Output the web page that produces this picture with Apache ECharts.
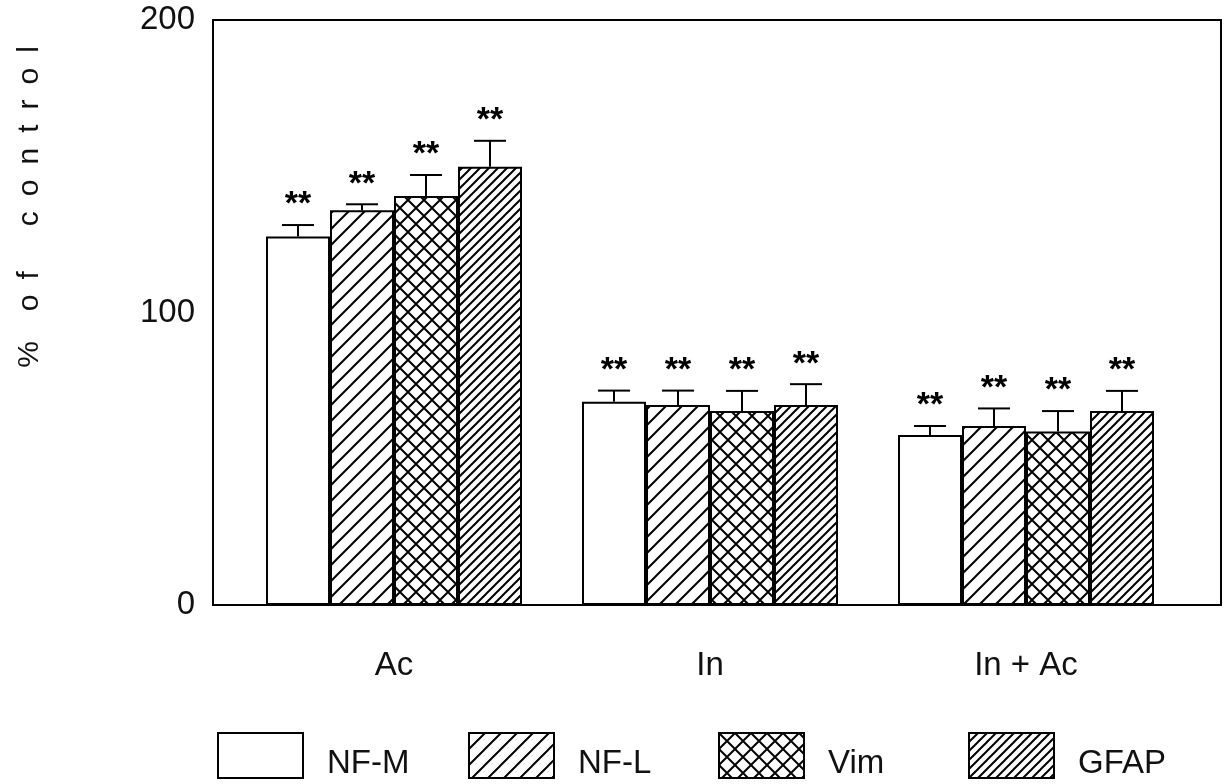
<!DOCTYPE html>
<html>
<head>
<meta charset="utf-8">
<script src="https://cdn.jsdelivr.net/npm/echarts@6/dist/echarts.min.js"></script>
<style>
  html, body { margin: 0; background: #fff; }
  #chart { width: 1232px; height: 784px; }
</style>
</head>
<body>
<div id="chart"></div>
<script>
// data (% of control, mean and SE)
var categories = ['Ac', 'In', 'In + Ac'];
var seriesNames = ['NF-M', 'NF-L', 'Vim', 'GFAP'];
var nfM = [126, 69.5, 58.1];
var nfL = [135, 68.4, 61.2];
var vim = [139.8, 66.3, 59.3];
var gfap = [149.8, 68.4, 66.3];
var nfMErr = [3.9, 3.8, 3.1];
var nfLErr = [2.0, 4.9, 6.0];
var vimErr = [7.2, 6.9, 7.0];
var gfapErr = [8.9, 7.1, 6.9];
var sigMarks = ['**', '**', '**'];
var yTicks = [0, 100, 200];

var BAR_W = 64;
var FONT = 'Liberation Sans, Arial, sans-serif';

// hatch fills
function makePattern(size, kind) {
  var c = document.createElement('canvas');
  c.width = c.height = size;
  var g = c.getContext('2d');
  g.fillStyle = '#fff';
  g.fillRect(0, 0, size, size);
  g.strokeStyle = '#000';
  g.lineWidth = 2;
  g.beginPath();
  if (kind !== 'none') {
    g.moveTo(-2, size + 2); g.lineTo(size + 2, -2);
    g.moveTo(-2, 2); g.lineTo(2, -2);
    g.moveTo(size - 2, size + 2); g.lineTo(size + 2, size - 2);
  }
  if (kind === 'cross') {
    g.moveTo(-2, -2); g.lineTo(size + 2, size + 2);
    g.moveTo(size - 2, -2); g.lineTo(size + 2, 2);
    g.moveTo(-2, size - 2); g.lineTo(2, size + 2);
  }
  g.stroke();
  return { image: c, repeat: 'repeat' };
}

var fills = [
  '#fff',
  makePattern(16, 'slash'),
  makePattern(16, 'cross'),
  makePattern(9, 'slash')
];
var values = [nfM, nfL, vim, gfap];
var errs = [nfMErr, nfLErr, vimErr, gfapErr];

function errRender(k) {
  return function (params, api) {
    var i = api.value(0);
    var base = api.coord([i, api.value(1)]);
    var top = api.coord([i, api.value(1) + api.value(2)]);
    var x = base[0] + (k - 1.5) * BAR_W;
    return {
      type: 'group',
      children: [
        { type: 'line', shape: { x1: x, y1: base[1], x2: x, y2: top[1] }, style: { stroke: '#000', lineWidth: 2 } },
        { type: 'line', shape: { x1: x - 16, y1: top[1], x2: x + 16, y2: top[1] }, style: { stroke: '#000', lineWidth: 2 } },
        {
          type: 'text', x: x, y: top[1] - 20,
          style: { text: sigMarks[i], font: 'bold 34px ' + FONT, fill: '#000', align: 'center', verticalAlign: 'middle' }
        }
      ]
    };
  };
}

var series = [];
seriesNames.forEach(function (name, k) {
  series.push({
    name: name,
    type: 'bar',
    data: values[k],
    barWidth: BAR_W,
    barGap: '0%',
    itemStyle: { color: fills[k], borderColor: '#000', borderWidth: 2 },
    emphasis: { disabled: true }
  });
});
seriesNames.forEach(function (name, k) {
  series.push({
    type: 'custom',
    renderItem: errRender(k),
    data: values[k].map(function (v, i) { return [i, v, errs[k][i]]; }),
    encode: { x: 0, y: 1 },
    z: 5
  });
});

var legendLeft = [212, 463, 713, 963];
var legends = seriesNames.map(function (name, k) {
  return {
    data: [name],
    left: legendLeft[k],
    top: 727,
    itemWidth: 85,
    itemHeight: 45,
    selectedMode: false,
    icon: 'rect',
    formatter: '{t|{name}}',
    textStyle: {
      color: '#111',
      rich: { t: { fontSize: 33, fontFamily: FONT, color: '#111', padding: [16, 0, 0, 19] } }
    }
  };
});

var chart = echarts.init(document.getElementById('chart'));
chart.setOption({
  animation: false,
  backgroundColor: '#fff',
  grid: { left: 236, right: 48, top: 20, bottom: 179 },
  xAxis: {
    type: 'category',
    data: categories,
    axisLine: { show: false },
    axisTick: { show: false },
    axisLabel: { fontSize: 33, fontFamily: FONT, color: '#111', margin: 44 }
  },
  yAxis: {
    type: 'value',
    min: yTicks[0],
    max: yTicks[yTicks.length - 1],
    interval: 100,
    axisLine: { show: false },
    axisTick: { show: false },
    splitLine: { show: false },
    axisLabel: { fontSize: 33, fontFamily: FONT, color: '#111', margin: 41 }
  },
  legend: legends,
  graphic: [
    {
      type: 'rect',
      shape: { x: 213, y: 20, width: 1008, height: 585 },
      style: { fill: 'none', stroke: '#000', lineWidth: 2 },
      z: 10
    },
    {
      type: 'text',
      x: 30, y: 207,
      rotation: Math.PI / 2,
      style: {
        text: '%\u2002\u2002o\u2002f\u2002\u2002\u2002c\u2002o\u2002n\u2002t\u2002r\u2002o\u2002l',
        font: '30px ' + FONT, fill: '#111', align: 'center', verticalAlign: 'middle'
      }
    }
  ],
  series: series
});
</script>
</body>
</html>
